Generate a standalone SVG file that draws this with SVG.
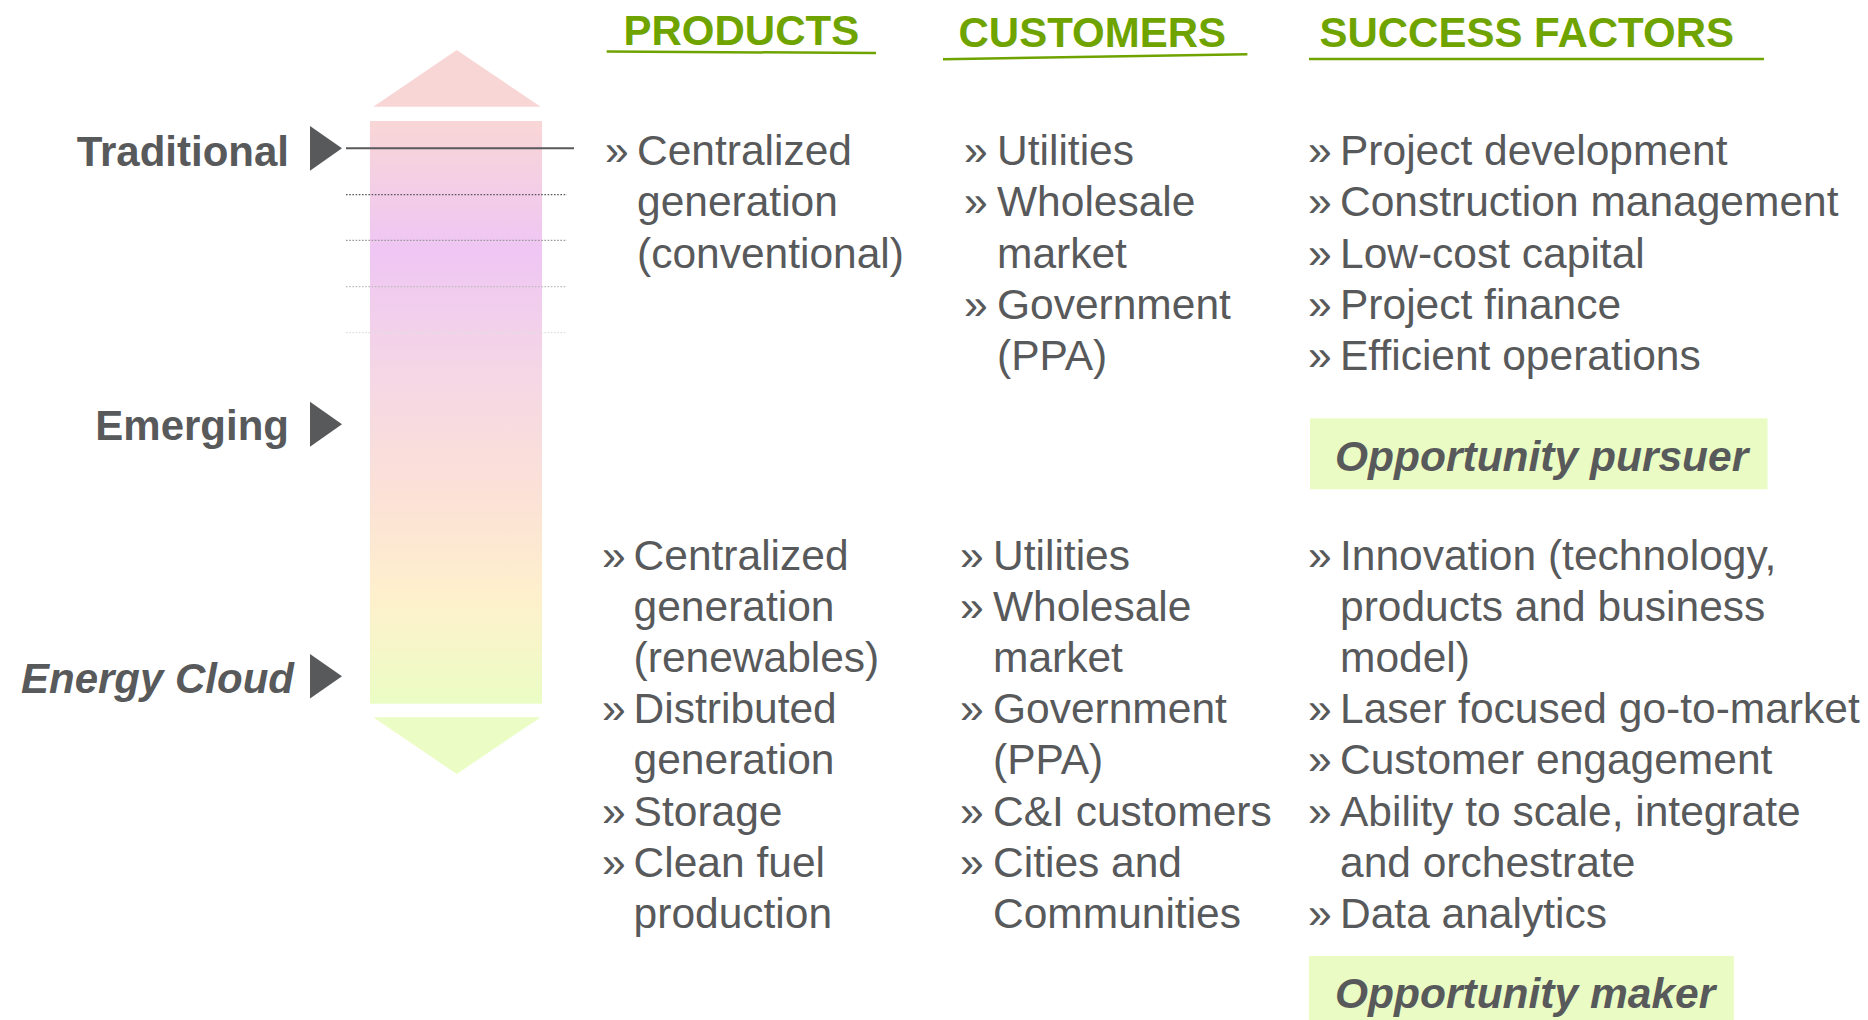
<svg xmlns="http://www.w3.org/2000/svg" width="1868" height="1020" viewBox="0 0 1868 1020">
  <defs>
    <linearGradient id="barGrad" x1="0" y1="0" x2="0" y2="1">
      <stop offset="0" stop-color="#F9D6D6"/>
      <stop offset="0.22" stop-color="#EFC6F4"/>
      <stop offset="0.45" stop-color="#F5D8E4"/>
      <stop offset="0.65" stop-color="#FBE2D6"/>
      <stop offset="0.82" stop-color="#FEF0CC"/>
      <stop offset="1" stop-color="#EBFDC4"/>
    </linearGradient>
    <style>
      .lbl { font-family: "Liberation Sans", Arial, sans-serif; font-size: 42px; font-weight: bold; fill: #58595B; }
      .lbli { font-style: italic; }
      .hdr { font-family: "Liberation Sans", Arial, sans-serif; font-size: 42px; font-weight: bold; fill: #6FA400; }
      .hline { stroke: #6FA400; stroke-width: 2.5; fill: none; }
      .body { font-family: "Liberation Sans", Arial, sans-serif; font-size: 42.5px; fill: #58595B; }
      .opp { font-family: "Liberation Sans", Arial, sans-serif; font-size: 42.5px; font-weight: bold; font-style: italic; fill: #58595B; }
      .oppbox { fill: #EAFCC3; }
      .marker { fill: #58595B; }
      .dot { stroke-width: 1.3; stroke-dasharray: 1.6 1.6; fill: none; }
    </style>
  </defs>

  <!-- Vertical gradient arrow -->
  <g id="scale-arrow">
    <polygon points="456.7,50 540.7,106.7 373.3,106.7" fill="#F9D6D6"/>
    <rect x="370" y="121" width="172" height="582.7" fill="url(#barGrad)"/>
    <polygon points="373.3,717.3 540.7,717.3 456.7,774" fill="#EBFDC4"/>
  </g>

  <!-- Stage labels -->
  <g id="label-traditional">
    <text class="lbl" x="289" y="165.7" text-anchor="end">Traditional</text>
    <polygon class="marker" points="310,126 342,148.3 310,170.7"/>
  </g>
  <g id="label-emerging">
    <text class="lbl" x="289" y="440" text-anchor="end">Emerging</text>
    <polygon class="marker" points="310,401.7 342,424.2 310,446.7"/>
  </g>
  <g id="label-energy-cloud">
    <text class="lbl lbli" x="294" y="693.3" text-anchor="end">Energy Cloud</text>
    <polygon class="marker" points="310,654 342,676.2 310,698.4"/>
  </g>

  <!-- Connectors -->
  <g id="connectors">
    <line x1="346" y1="148.3" x2="574" y2="148.3" stroke="#58595B" stroke-width="2"/>
    <line class="dot" x1="346" y1="194.7" x2="567" y2="194.7" stroke="#58595B"/>
    <line class="dot" x1="346" y1="240.3" x2="567" y2="240.3" stroke="#9A9A9A"/>
    <line class="dot" x1="346" y1="286.7" x2="567" y2="286.7" stroke="#BDBDBD"/>
    <line class="dot" x1="346" y1="332.7" x2="567" y2="332.7" stroke="#DEDEDE"/>
  </g>

  <!-- Column headers -->
  <g id="header-products">
    <text class="hdr" x="623.5" y="45">PRODUCTS</text>
    <line class="hline" x1="606.7" y1="51.5" x2="876" y2="53"/>
  </g>
  <g id="header-customers">
    <text class="hdr" x="958.5" y="46.7">CUSTOMERS</text>
    <line class="hline" x1="943" y1="59.3" x2="1247.4" y2="54.3"/>
  </g>
  <g id="header-success">
    <text class="hdr" x="1319.4" y="46.7">SUCCESS FACTORS</text>
    <line class="hline" x1="1309" y1="59" x2="1764" y2="59"/>
  </g>

  <!-- Traditional row -->
  <g id="products-traditional">
    <text class="body" x="605" y="165">»</text>
    <text class="body" x="637" y="165">Centralized</text>
    <text class="body" x="637" y="216.3">generation</text>
    <text class="body" x="637" y="267.6">(conventional)</text>
  </g>
  <g id="customers-traditional">
    <text class="body" x="964" y="165">»</text>
    <text class="body" x="997" y="165">Utilities</text>
    <text class="body" x="964" y="216.3">»</text>
    <text class="body" x="997" y="216.3">Wholesale</text>
    <text class="body" x="997" y="267.6">market</text>
    <text class="body" x="964" y="318.9">»</text>
    <text class="body" x="997" y="318.9">Government</text>
    <text class="body" x="997" y="370.2">(PPA)</text>
  </g>
  <g id="success-traditional">
    <text class="body" x="1308" y="165">»</text>
    <text class="body" x="1340" y="165">Project development</text>
    <text class="body" x="1308" y="216.3">»</text>
    <text class="body" x="1340" y="216.3">Construction management</text>
    <text class="body" x="1308" y="267.6">»</text>
    <text class="body" x="1340" y="267.6">Low-cost capital</text>
    <text class="body" x="1308" y="318.9">»</text>
    <text class="body" x="1340" y="318.9">Project finance</text>
    <text class="body" x="1308" y="370.2">»</text>
    <text class="body" x="1340" y="370.2">Efficient operations</text>
  </g>
  <g id="opportunity-pursuer">
    <rect class="oppbox" x="1310" y="418.3" width="457.5" height="71"/>
    <text class="opp" x="1335" y="470.7">Opportunity pursuer</text>
  </g>

  <!-- Energy Cloud row -->
  <g id="products-energy-cloud">
    <text class="body" x="602" y="570">»</text>
    <text class="body" x="633.6" y="570">Centralized</text>
    <text class="body" x="633.6" y="621.1">generation</text>
    <text class="body" x="633.6" y="672.2">(renewables)</text>
    <text class="body" x="602" y="723.3">»</text>
    <text class="body" x="633.6" y="723.3">Distributed</text>
    <text class="body" x="633.6" y="774.4">generation</text>
    <text class="body" x="602" y="825.5">»</text>
    <text class="body" x="633.6" y="825.5">Storage</text>
    <text class="body" x="602" y="876.6">»</text>
    <text class="body" x="633.6" y="876.6">Clean fuel</text>
    <text class="body" x="633.6" y="927.7">production</text>
  </g>
  <g id="customers-energy-cloud">
    <text class="body" x="960" y="570">»</text>
    <text class="body" x="993" y="570">Utilities</text>
    <text class="body" x="960" y="621.1">»</text>
    <text class="body" x="993" y="621.1">Wholesale</text>
    <text class="body" x="993" y="672.2">market</text>
    <text class="body" x="960" y="723.3">»</text>
    <text class="body" x="993" y="723.3">Government</text>
    <text class="body" x="993" y="774.4">(PPA)</text>
    <text class="body" x="960" y="825.5">»</text>
    <text class="body" x="993" y="825.5">C&amp;I customers</text>
    <text class="body" x="960" y="876.6">»</text>
    <text class="body" x="993" y="876.6">Cities and</text>
    <text class="body" x="993" y="927.7">Communities</text>
  </g>
  <g id="success-energy-cloud">
    <text class="body" x="1308" y="570">»</text>
    <text class="body" x="1340" y="570">Innovation (technology,</text>
    <text class="body" x="1340" y="621.1">products and business</text>
    <text class="body" x="1340" y="672.2">model)</text>
    <text class="body" x="1308" y="723.3">»</text>
    <text class="body" x="1340" y="723.3">Laser focused go-to-market</text>
    <text class="body" x="1308" y="774.4">»</text>
    <text class="body" x="1340" y="774.4">Customer engagement</text>
    <text class="body" x="1308" y="825.5">»</text>
    <text class="body" x="1340" y="825.5">Ability to scale, integrate</text>
    <text class="body" x="1340" y="876.6">and orchestrate</text>
    <text class="body" x="1308" y="927.7">»</text>
    <text class="body" x="1340" y="927.7">Data analytics</text>
  </g>
  <g id="opportunity-maker">
    <rect class="oppbox" x="1309" y="956" width="424.8" height="64"/>
    <text class="opp" x="1335" y="1008.3">Opportunity maker</text>
  </g>
</svg>
